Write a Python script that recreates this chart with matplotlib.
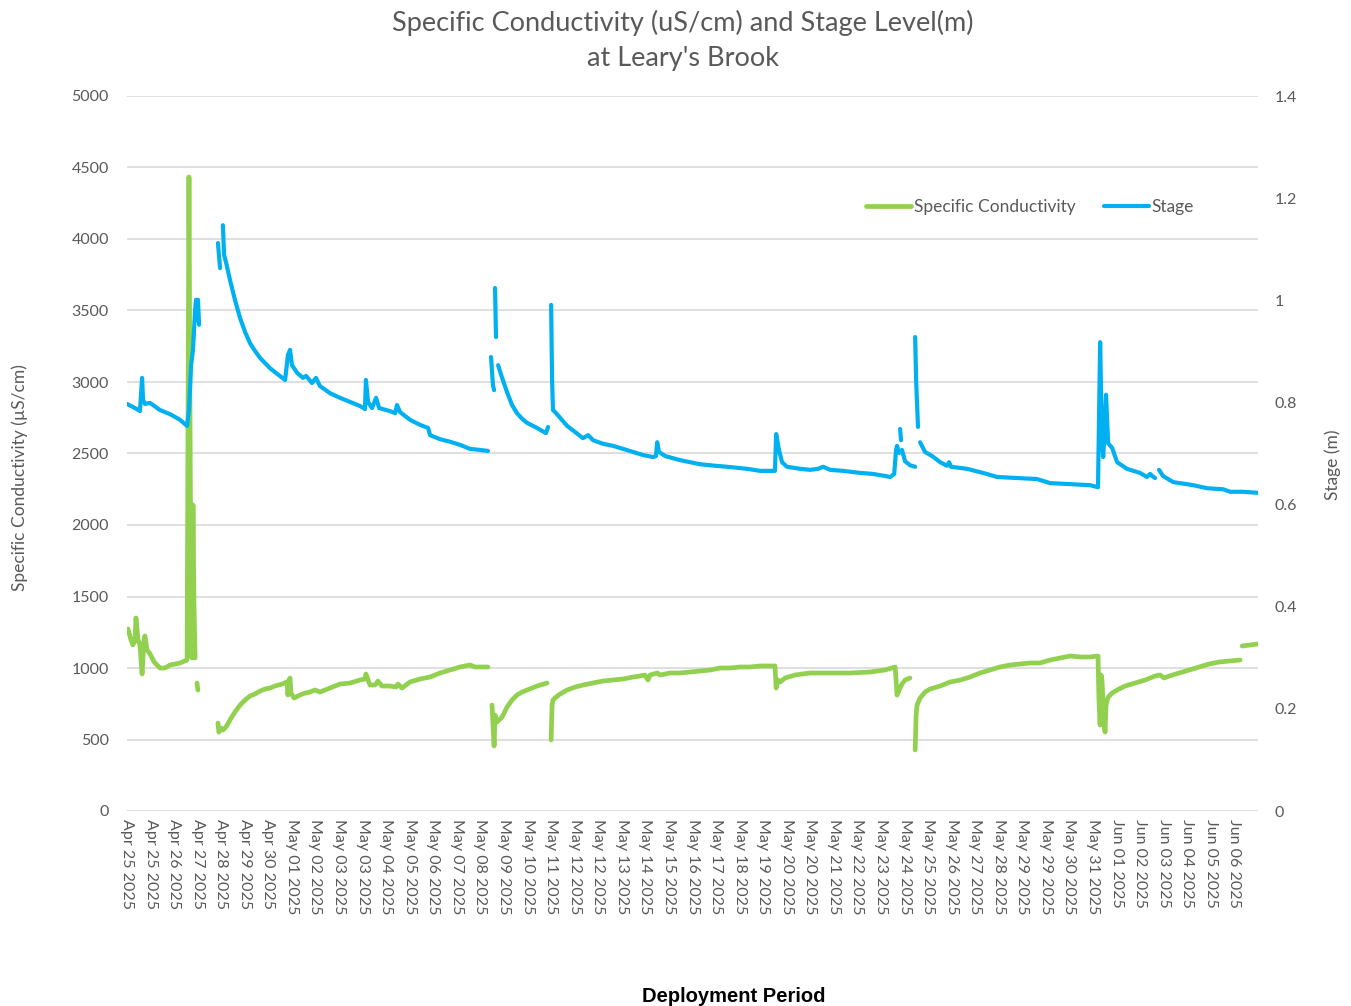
import numpy as np
import matplotlib
matplotlib.use("Agg")
import matplotlib.pyplot as plt

nan = np.nan

# category tick labels along the deployment axis
tick_labels = [
    "Apr 25 2025", "Apr 25 2025", "Apr 26 2025", "Apr 27 2025", "Apr 28 2025",
    "Apr 29 2025", "Apr 30 2025", "May 01 2025", "May 02 2025", "May 03 2025",
    "May 03 2025", "May 04 2025", "May 05 2025", "May 06 2025", "May 07 2025",
    "May 08 2025", "May 09 2025", "May 10 2025", "May 11 2025", "May 12 2025",
    "May 12 2025", "May 13 2025", "May 14 2025", "May 15 2025", "May 16 2025",
    "May 17 2025", "May 18 2025", "May 19 2025", "May 20 2025", "May 20 2025",
    "May 21 2025", "May 22 2025", "May 23 2025", "May 24 2025", "May 25 2025",
    "May 26 2025", "May 27 2025", "May 28 2025", "May 29 2025", "May 29 2025",
    "May 30 2025", "May 31 2025", "Jun 01 2025", "Jun 02 2025", "Jun 03 2025",
    "Jun 04 2025", "Jun 05 2025", "Jun 06 2025",
]

# stage (m) - position along category axis, value; nan = logger gap
stage_pos = [
    0.00, 0.42, 0.55, 0.64, 0.68, 0.76, 0.98, 1.40, 1.83, 2.25, 2.55, 2.63, 2.72, 2.80,
    2.89, 2.93, 2.97, 3.01, 3.06, nan,
    3.86, 3.95, nan,
    4.07, 4.12, 4.20, 4.37, 4.58, 4.80, 5.01, 5.22, 5.43, 5.65, 5.86, 6.07, 6.37, 6.71,
    6.83, 6.92, 7.00, 7.22, 7.47, 7.60, 7.85, 8.02, 8.19, 8.62, 9.04, 9.47, 9.89, 10.10,
    10.14, 10.23, 10.40, 10.57, 10.70, 11.16, 11.38, 11.46, 11.59, 12.01, 12.44, 12.78,
    12.86, 13.29, 13.71, 14.13, 14.56, 14.98, 15.32, nan,
    15.45, 15.53, 15.58, nan,
    15.62, 15.66, nan,
    15.75, 15.92, 16.13, 16.34, 16.55, 16.77, 16.98, 17.40, 17.78, 17.87, nan,
    18.00, 18.04, 18.08, 18.21, 18.38, 18.68, 19.02, 19.35, 19.57, 19.78, 20.20, 20.63,
    21.05, 21.48, 21.90, 22.33, 22.45, 22.50, 22.58, 22.84, 23.47, 24.32, 24.96, 25.47,
    26.32, 26.87, 27.50, 27.55, 27.67, 27.80, 28.01, 28.57, 28.99, 29.33, 29.54, 29.84,
    30.39, 31.11, 31.66, 32.17, 32.39, 32.56, 32.64, 32.68, 32.77, nan,
    32.81, 32.85, nan,
    32.89, 33.02, 33.23, 33.45, nan,
    33.45, 33.49, 33.57, nan,
    33.66, 33.87, 34.17, 34.51, 34.80, 34.89, 34.97, 35.65, 36.33, 36.93, 37.78, 38.62,
    39.18, 40.03, 40.87, 41.21, 41.30, 41.38, 41.43, 41.51, 41.55, 41.64, 41.81, 42.02,
    42.44, 42.99, 43.29, 43.42, 43.51, 43.63, nan,
    43.80, 43.97, 44.40, 45.25, 45.84, 46.52, 46.82, 47.37, 48.00,
]
stage_val = [
    0.797, 0.787, 0.783, 0.848, 0.805, 0.797, 0.799, 0.785, 0.777, 0.766, 0.754, 0.785,
    0.873, 0.903, 0.981, 1.001, 0.961, 1.001, 0.952, nan,
    1.112, 1.063, nan,
    1.147, 1.089, 1.075, 1.040, 1.001, 0.965, 0.938, 0.916, 0.901, 0.887, 0.877, 0.867,
    0.856, 0.844, 0.893, 0.903, 0.873, 0.858, 0.848, 0.852, 0.838, 0.848, 0.832, 0.818,
    0.809, 0.801, 0.793, 0.787, 0.844, 0.801, 0.789, 0.809, 0.789, 0.783, 0.779, 0.795,
    0.781, 0.766, 0.756, 0.750, 0.736, 0.728, 0.723, 0.717, 0.709, 0.707, 0.705, nan,
    0.889, 0.834, 0.824, nan,
    1.024, 0.928, nan,
    0.873, 0.848, 0.820, 0.795, 0.779, 0.768, 0.760, 0.750, 0.740, 0.752, nan,
    0.991, 0.844, 0.785, 0.779, 0.770, 0.754, 0.742, 0.730, 0.736, 0.726, 0.719, 0.715,
    0.709, 0.703, 0.697, 0.693, 0.695, 0.722, 0.703, 0.695, 0.687, 0.679, 0.676, 0.674,
    0.670, 0.666, 0.666, 0.738, 0.707, 0.683, 0.674, 0.670, 0.668, 0.670, 0.674, 0.668,
    0.666, 0.662, 0.660, 0.656, 0.654, 0.660, 0.707, 0.715, 0.701, nan,
    0.748, 0.726, nan,
    0.707, 0.685, 0.677, 0.674, nan,
    0.928, 0.844, 0.752, nan,
    0.722, 0.703, 0.695, 0.683, 0.676, 0.683, 0.674, 0.670, 0.662, 0.654, 0.652, 0.650,
    0.642, 0.640, 0.638, 0.634, 0.918, 0.726, 0.693, 0.766, 0.815, 0.720, 0.711, 0.683,
    0.670, 0.662, 0.654, 0.660, 0.656, 0.652, nan,
    0.668, 0.656, 0.644, 0.638, 0.632, 0.630, 0.625, 0.625, 0.623,
]

# specific conductivity (uS/cm)
cond_pos = [
    0.04, 0.17, 0.25, 0.34, 0.38, 0.47, 0.55, 0.64, 0.72, 0.76, 0.85, 0.98, 1.15, 1.40,
    1.61, 1.83, 2.25, 2.55, 2.59, 2.63, 2.67, 2.72, 2.76, 2.80, 2.84, 2.89, nan,
    2.97, 3.01, nan,
    3.86, 3.90, 3.99, 4.07, 4.20, 4.37, 4.58, 4.80, 5.01, 5.22, 5.43, 5.65, 5.86, 6.07,
    6.28, 6.58, 6.79, 6.83, 6.88, 6.92, 6.96, 7.09, 7.34, 7.56, 7.77, 7.98, 8.19, 8.62,
    9.04, 9.47, 9.89, 10.10, 10.14, 10.23, 10.31, 10.53, 10.65, 10.82, 11.16, 11.42,
    11.50, 11.67, 12.01, 12.44, 12.86, 13.29, 13.71, 14.13, 14.56, 14.77, 14.98, 15.32, nan,
    15.49, 15.58, 15.62, 15.70, 15.92, 16.13, 16.34, 16.55, 16.77, 16.98, 17.40, 17.83, nan,
    18.00, 18.04, 18.08, 18.21, 18.38, 18.68, 19.02, 19.35, 19.78, 20.20, 20.63, 21.05,
    21.48, 21.77, 21.98, 22.11, 22.20, 22.50, 22.63, 23.05, 23.47, 23.90, 24.32, 24.75,
    25.17, 25.60, 26.02, 26.44, 26.87, 27.50, 27.55, 27.63, 27.72, 27.93, 28.35, 28.99,
    29.84, 30.69, 31.54, 32.17, 32.60, 32.64, 32.68, 32.77, 32.89, 33.02, 33.23, nan,
    33.45, 33.49, 33.53, 33.66, 33.87, 34.08, 34.51, 34.93, 35.36, 35.78, 36.20, 36.63,
    37.05, 37.48, 37.90, 38.33, 38.75, 39.18, 39.60, 40.03, 40.45, 40.87, 41.21, 41.25,
    41.30, 41.34, 41.38, 41.47, 41.51, 41.55, 41.64, 41.81, 42.02, 42.36, 42.78, 43.21,
    43.63, 43.85, 44.01, 44.23, 44.65, 45.08, 45.50, 45.93, 46.35, 46.82, 47.24, nan,
    47.33, 47.67, 48.00,
]
cond_val = [
    1273, 1196, 1161, 1196, 1350, 1196, 1161, 958, 1196, 1224, 1126, 1098, 1042, 1000,
    1000, 1021, 1035, 1056, 2664, 4434, 2874, 1336, 1070, 2140, 1476, 1070, nan,
    895, 846, nan,
    615, 552, 580, 566, 587, 636, 692, 741, 776, 804, 818, 839, 853, 860,
    874, 888, 902, 811, 916, 930, 825, 790, 811, 825, 832, 846, 832, 860,
    888, 895, 916, 923, 958, 916, 881, 881, 909, 874, 874, 867,
    888, 860, 902, 923, 937, 965, 986, 1007, 1021, 1007, 1007, 1007, nan,
    741, 455, 671, 622, 657, 727, 776, 811, 832, 846, 874, 895, nan,
    497, 741, 776, 797, 818, 846, 867, 881, 895, 909, 916, 923,
    937, 944, 951, 916, 951, 965, 951, 965, 965, 972, 979, 986,
    1000, 1000, 1007, 1007, 1014, 1014, 860, 916, 902, 930, 951, 965,
    965, 965, 972, 986, 1007, 916, 811, 846, 888, 916, 930, nan,
    427, 671, 741, 790, 832, 853, 874, 902, 916, 937, 965, 986,
    1007, 1021, 1028, 1035, 1035, 1056, 1070, 1084, 1077, 1077, 1084, 776,
    601, 951, 916, 601, 552, 741, 797, 825, 846, 874, 895, 916,
    944, 951, 930, 944, 965, 986, 1007, 1028, 1042, 1049, 1056, nan,
    1154, 1161, 1168,
]

text_grey = "#595959"
green = "#92D050"
blue = "#00B0F0"

plt.rcParams["font.family"] = ["Lato", "DejaVu Sans"]

fig = plt.figure(figsize=(13.51, 10.06), dpi=100)
ax = fig.add_axes([127 / 1351, 1 - 811 / 1006, (1258 - 127) / 1351, (811 - 96) / 1006])
ax2 = ax.twinx()

ax.plot(cond_pos, cond_val, color=green, lw=3.4, solid_capstyle="round",
        solid_joinstyle="round", label="Specific Conductivity")
ax2.plot(stage_pos, stage_val, color=blue, lw=3.0, solid_capstyle="round",
         solid_joinstyle="round", label="Stage")

ax.set_xlim(0, 48)
ax.set_ylim(0, 5000)
ax2.set_ylim(0, 1.4)
ax.set_yticks(np.arange(0, 5001, 500))
ax2.set_yticks(np.arange(0, 1.41, 0.2))
ax2.set_yticklabels(["0", "0.2", "0.4", "0.6", "0.8", "1", "1.2", "1.4"])

ax.set_xticks(np.arange(len(tick_labels)))
ax.set_xticklabels(tick_labels, rotation=270, va="top", ha="center")

ax.grid(axis="y", color="#D9D9D9", lw=1.2)
ax.set_axisbelow(True)
for a in (ax, ax2):
    for s in a.spines.values():
        s.set_visible(False)
    a.tick_params(length=0, colors=text_grey, labelsize=11.5)
ax.tick_params(axis="y", pad=13)
ax2.tick_params(axis="y", pad=12)
ax.tick_params(axis="x", pad=6, labelsize=11.5)

ax.set_ylabel("Specific Conductivity (µS/cm)", color=text_grey, fontsize=12.5)
ax.yaxis.set_label_coords(-0.0876, 0.466)
ax2.set_ylabel("Stage (m)", color=text_grey, fontsize=12.5)
ax2.yaxis.set_label_coords(1.0584, 0.484)

fig.text(0.5055, 0.990, "Specific Conductivity (uS/cm) and Stage Level(m)\nat Leary's Brook",
         ha="center", va="top", fontsize=19.5, color=text_grey, linespacing=1.5)
fig.text(0.5433, 0.0, "Deployment Period", ha="center", va="bottom", fontsize=14.5,
         fontweight="bold", family="Liberation Sans", color="black")

h1, l1 = ax.get_legend_handles_labels()
h2, l2 = ax2.get_legend_handles_labels()
leg = ax2.legend(h1 + h2, l1 + l2, loc="center", bbox_to_anchor=(1030 / 1351, 1 - 207 / 1006),
                 bbox_transform=fig.transFigure, ncol=2, frameon=False, fontsize=12.5,
                 handlelength=2.6, handletextpad=0.15, columnspacing=1.6)
for t in leg.get_texts():
    t.set_color(text_grey)

fig.savefig("out.png", dpi=100)
